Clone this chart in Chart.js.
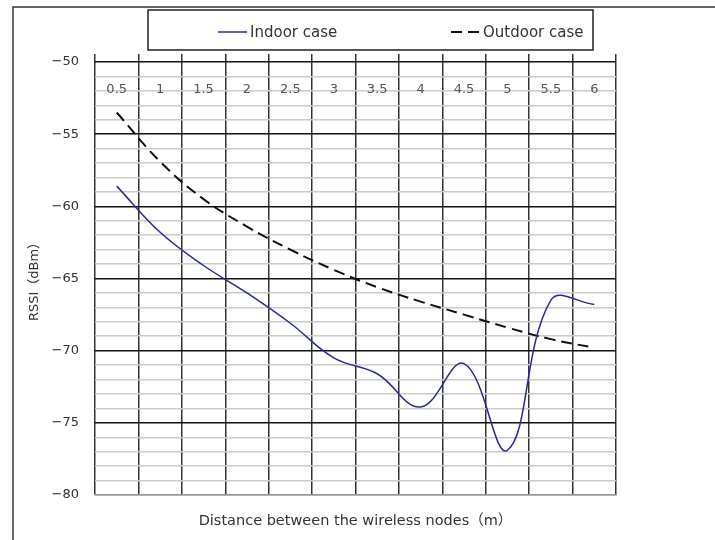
<!DOCTYPE html>
<html lang="en">
<head>
    <meta charset="UTF-8">
    <title>RSSI vs distance</title>
    <script src="https://cdn.jsdelivr.net/npm/chart.js@4.4.1/dist/chart.umd.min.js"></script>
    <style>
        html, body { margin: 0; padding: 0; background: #fff; }
    </style>
</head>
<body>
    <canvas id="rssiChart" width="715" height="540"></canvas>

    <script>
        // distance between the nodes (m) and measured RSSI (dBm)
        const distances = ['0.5', '1', '1.5', '2', '2.5', '3', '3.5', '4', '4.5', '5', '5.5', '6'];
        const indoorRssi = [-58.6, -61.8, -64.1, -66.0, -68.1, -70.5, -71.6, -73.9, -70.9, -76.9, -66.5, -66.8];
        const outdoorRssi = [-53.5, -56.9, -59.5, -61.4, -63.0, -64.4, -65.6, -66.6, -67.5, -68.4, -69.2, -69.8];

        const FONT = '"DejaVu Sans", "Noto Sans CJK JP", sans-serif';

        // frame round the chart and the boxed legend on top
        const boxLegend = {
            id: 'boxLegend',
            afterDraw(chart) {
                const ctx = chart.ctx;
                ctx.save();
                ctx.strokeStyle = '#333';
                ctx.lineWidth = 1.5;
                ctx.beginPath();
                ctx.moveTo(13, 540);
                ctx.lineTo(13, 7);
                ctx.lineTo(715, 7);
                ctx.stroke();

                ctx.strokeStyle = '#222';
                ctx.strokeRect(148, 10, 445, 40);

                const starts = [218, 451];
                ctx.font = '15px ' + FONT;
                ctx.textBaseline = 'middle';
                ctx.fillStyle = '#333';
                chart.data.datasets.forEach((ds, i) => {
                    const x = starts[i];
                    ctx.strokeStyle = ds.borderColor;
                    ctx.lineWidth = ds.borderWidth;
                    ctx.setLineDash(ds.borderDash || []);
                    ctx.beginPath();
                    ctx.moveTo(x, 32);
                    ctx.lineTo(x + 29, 32);
                    ctx.stroke();
                    ctx.setLineDash([]);
                    ctx.fillText(ds.label, x + 32, 33);
                });
                ctx.restore();
            }
        };

        new Chart(document.getElementById('rssiChart'), {
            type: 'line',
            data: {
                labels: distances,
                datasets: [{
                    label: 'Indoor case',
                    data: indoorRssi,
                    borderColor: '#2a2a96',
                    borderWidth: 1.5,
                    tension: 0.4,
                    pointRadius: 0,
                    fill: false
                }, {
                    label: 'Outdoor case',
                    data: outdoorRssi,
                    borderColor: '#111',
                    borderWidth: 2,
                    borderDash: [11, 6],
                    tension: 0.4,
                    pointRadius: 0,
                    fill: false
                }]
            },
            options: {
                responsive: false,
                animation: false,
                layout: { padding: { left: 0, right: 99, top: 54, bottom: 0 } },
                plugins: {
                    legend: { display: false },
                    tooltip: { enabled: false }
                },
                scales: {
                    x: {
                        type: 'category',
                        position: 'top',
                        offset: true,
                        grid: {
                            offset: true,
                            tickLength: 8,
                            lineWidth: 1.5,
                            color: c => c.index === distances.length ? '#999' : '#333'
                        },
                        border: { display: false },
                        ticks: {
                            mirror: true,
                            padding: 20,
                            autoSkip: false,
                            maxRotation: 0,
                            color: '#555',
                            font: { family: FONT, size: 13 }
                        },
                        afterFit: s => { s.height = 8; }
                    },
                    xb: {
                        type: 'category',
                        position: 'bottom',
                        grid: { display: false },
                        border: { display: true, color: '#999', width: 1.5 },
                        ticks: { display: false },
                        title: {
                            display: true,
                            text: 'Distance between the wireless nodes（m）',
                            color: '#333',
                            font: { family: FONT, size: 14.5 },
                            padding: { top: 0, bottom: 10 }
                        },
                        afterFit: s => { s.height = 45; }
                    },
                    y: {
                        min: -80,
                        max: -50,
                        ticks: {
                            stepSize: 1,
                            autoSkip: false,
                            padding: 16,
                            color: '#333',
                            font: { family: FONT, size: 13 },
                            callback: v => v % 5 === 0 ? '−' + Math.abs(v) : ''
                        },
                        grid: {
                            drawTicks: false,
                            lineWidth: 1.5,
                            color: c => c.tick.value === -80 ? '#999' : (c.tick.value % 5 === 0 ? '#111' : '#cbcbcb')
                        },
                        border: { display: false },
                        title: {
                            display: true,
                            text: 'RSSI（dBm）',
                            color: '#333',
                            font: { family: FONT, size: 13 },
                            padding: { top: 27, bottom: 0 }
                        },
                        afterFit: s => { s.width = 95; }
                    }
                }
            },
            plugins: [boxLegend]
        });
    </script>
</body>
</html>
